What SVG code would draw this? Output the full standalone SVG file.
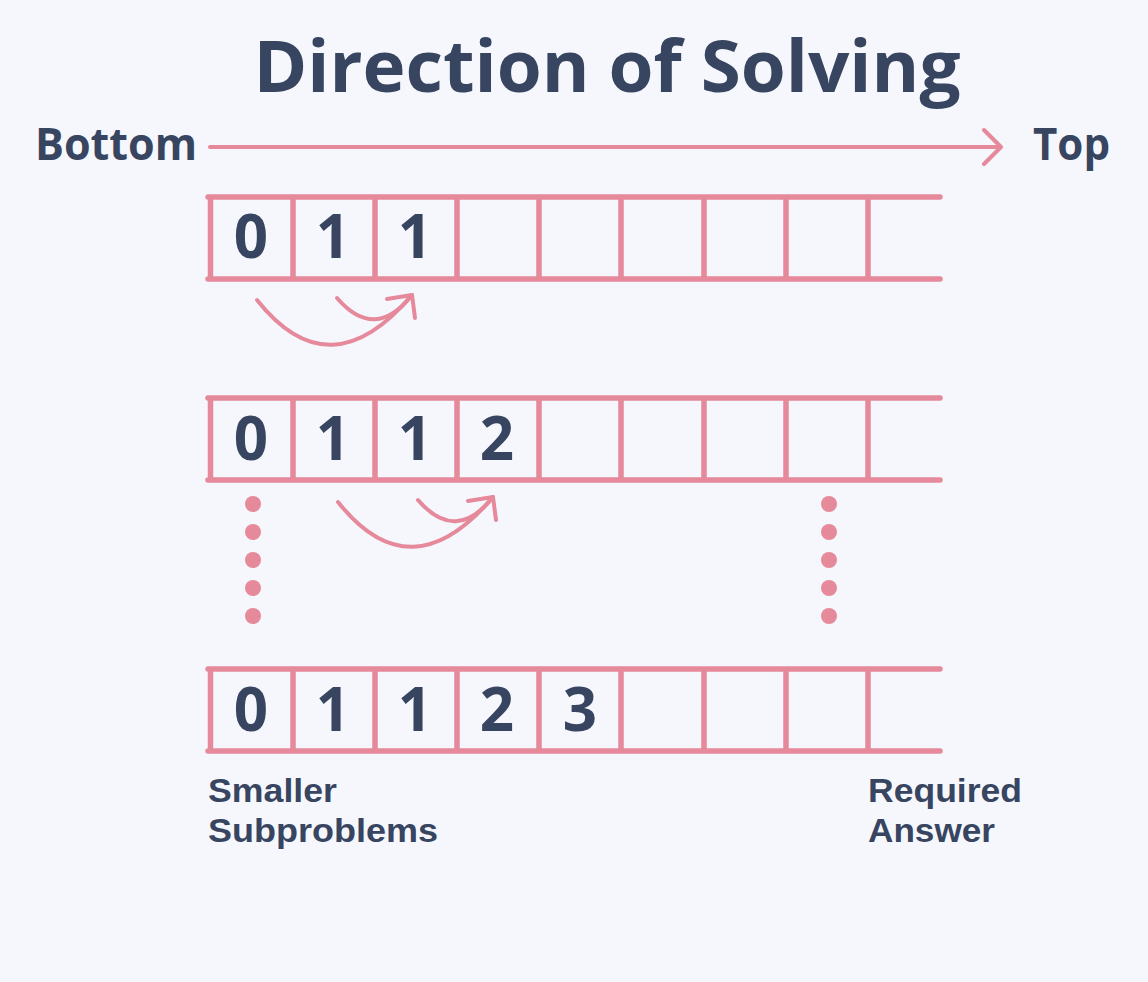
<svg xmlns="http://www.w3.org/2000/svg" width="1148" height="982" viewBox="0 0 1148 982">
<style>
.t{font-family:"Open Sans","Noto Sans","Liberation Sans",sans-serif;font-weight:700;fill:#384560}
.d{font-size:60px;text-anchor:middle}
.lbl{font-family:"Liberation Sans",Arial,sans-serif;font-size:34px}
.p{fill:none;stroke:#e5899b;stroke-linecap:round;stroke-linejoin:round}
.cell{stroke-width:5.5}
.arc{stroke-width:4}
.dot{fill:#e5899b}
</style>
<defs>
<g id="row">
<path class="p cell" d="M208,0 H940 M208,82 H940 M210.5,0 V82 M293,0 V82 M375,0 V82 M457,0 V82 M539,0 V82 M621,0 V82 M704,0 V82 M786,0 V82 M868,0 V82" stroke-linecap="butt"/>
</g>
<g id="curl">
<path class="p arc" d="M257,300 Q330,392 412,295"/>
<path class="p arc" d="M337,298 Q375,342 412,295"/>
<path class="p arc" d="M387,299 L412,295 L415,318"/>
</g>
</defs>
<rect width="1148" height="982" fill="#f5f7fd"/>
<g id="title">
<text class="t" x="607" y="92" font-size="72" text-anchor="middle" textLength="707" lengthAdjust="spacingAndGlyphs">Direction of Solving</text>
</g>
<g id="direction">
<text class="t" x="35" y="160" font-size="44" textLength="162" lengthAdjust="spacingAndGlyphs">Bottom</text>
<text class="t" x="1033" y="160" font-size="44" textLength="77" lengthAdjust="spacingAndGlyphs">Top</text>
</g>
<g id="connectors">
<path class="p" stroke-width="4" d="M210,147 H1000 M984,130 L1001,147 L984,164"/>
<use href="#curl"/>
<use href="#curl" transform="translate(81,202)"/>
</g>
<g id="row1">
<use href="#row" transform="translate(0,197)"/>
<text class="t d" x="251" y="258">0</text>
<text class="t d" x="333" y="258">1</text>
<text class="t d" x="415" y="258">1</text>
</g>
<g id="row2">
<use href="#row" transform="translate(0,398)"/>
<text class="t d" x="251" y="460">0</text>
<text class="t d" x="333" y="460">1</text>
<text class="t d" x="415" y="460">1</text>
<text class="t d" x="497" y="460">2</text>
</g>
<g id="dots">
<circle class="dot" cx="253" cy="504" r="8"/>
<circle class="dot" cx="253" cy="532" r="8"/>
<circle class="dot" cx="253" cy="560" r="8"/>
<circle class="dot" cx="253" cy="588" r="8"/>
<circle class="dot" cx="253" cy="616" r="8"/>
<circle class="dot" cx="829" cy="504" r="8"/>
<circle class="dot" cx="829" cy="532" r="8"/>
<circle class="dot" cx="829" cy="560" r="8"/>
<circle class="dot" cx="829" cy="588" r="8"/>
<circle class="dot" cx="829" cy="616" r="8"/>
</g>
<g id="row3">
<use href="#row" transform="translate(0,669)"/>
<text class="t d" x="251" y="731">0</text>
<text class="t d" x="333" y="731">1</text>
<text class="t d" x="415" y="731">1</text>
<text class="t d" x="497" y="731">2</text>
<text class="t d" x="580" y="731">3</text>
</g>
<g id="label-left">
<text class="t lbl" x="208" y="802" textLength="129" lengthAdjust="spacingAndGlyphs">Smaller</text>
<text class="t lbl" x="208" y="842" textLength="230" lengthAdjust="spacingAndGlyphs">Subproblems</text>
</g>
<g id="label-right">
<text class="t lbl" x="868" y="802" textLength="154" lengthAdjust="spacingAndGlyphs">Required</text>
<text class="t lbl" x="868" y="842" textLength="127" lengthAdjust="spacingAndGlyphs">Answer</text>
</g>
</svg>
